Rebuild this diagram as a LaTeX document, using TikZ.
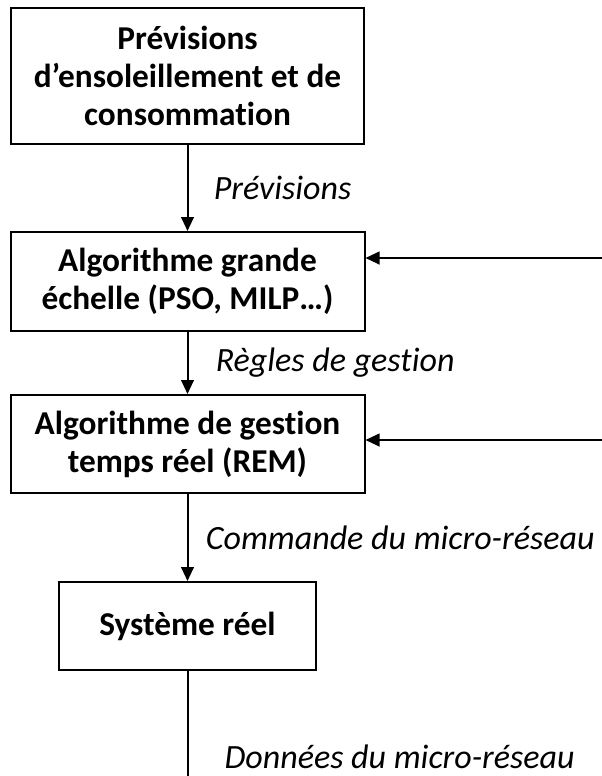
\documentclass[tikz,border=0pt]{standalone}
\usepackage{fontspec}
\setmainfont{Carlito}[Ligatures=NoCommon]
\usepackage{tikz}
\usetikzlibrary{arrows.meta}
\tikzstyle{block} = [draw, line width=1.5pt, align=center, inner sep=0pt, font=\bfseries\fontsize{25}{28.5}\selectfont]
\tikzstyle{line} = [draw, line width=1.5pt, -{Triangle[width=9.5pt,length=10.5pt]}]
\tikzstyle{lbl} = [anchor=west, inner sep=0pt, font=\itshape\fontsize{25.5}{28.5}\selectfont]

\begin{document}
\begin{tikzpicture}[x=0.75pt,y=-0.75pt]
      \useasboundingbox (0,0) rectangle (602,776);

      % blocks
      \node[block, minimum width=264.75pt, minimum height=102pt] (prev) at (187.5,76) {Prévisions\\d’ensoleillement et de\\consommation};
      \node[block, minimum width=265.5pt, minimum height=74.25pt] (grande) at (187.5,281.5) {Algorithme grande\\échelle (PSO, MILP…)};
      \node[block, minimum width=265.5pt, minimum height=73.5pt] (rem) at (187.5,444) {Algorithme de gestion\\temps réel (REM)};
      \node[block, minimum width=192.75pt, minimum height=66pt] (sys) at (187.5,626) {Système réel};

      % free ends
      \coordinate (in2) at (602,258);
      \coordinate (in3) at (602,440);
      \coordinate (out) at (187.5,776);

      % main flow
      \draw[line] (prev) -- node[lbl, xshift=19pt] {Prévisions} (grande);
      \draw[line] (grande) -- node[lbl, xshift=20.5pt] {Règles de gestion} (rem);
      \draw[line] (rem) -- node[lbl, xshift=13pt] {Commande du micro-réseau} (sys);
      \draw[line width=1.5pt] (sys) -- node[lbl, pos=0.82, xshift=27pt] {Données du micro-réseau} (out);

      % feedback inputs
      \draw[line] (in2) -- (grande.east |- in2);
      \draw[line] (in3) -- (rem.east |- in3);
\end{tikzpicture}
\end{document}
